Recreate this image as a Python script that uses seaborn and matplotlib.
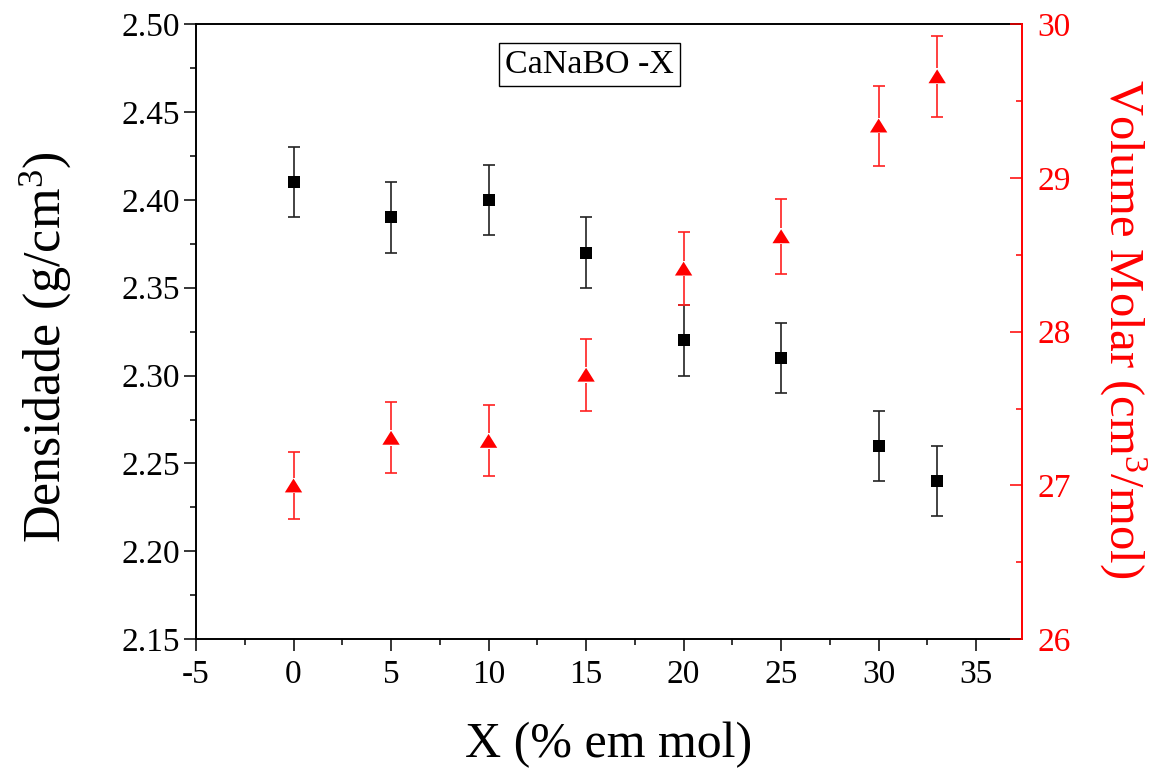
import numpy as np
import pandas as pd
import matplotlib
matplotlib.use("Agg")
import matplotlib.pyplot as plt
import seaborn as sns
from matplotlib.ticker import MultipleLocator

# Composition (% em mol)
x_mol = [0, 5, 10, 15, 20, 25, 30, 33]

# Densidade (g/cm3) and its uncertainty
densidade = [2.41, 2.39, 2.40, 2.37, 2.32, 2.31, 2.26, 2.24]
densidade_err = [0.02, 0.02, 0.02, 0.02, 0.02, 0.02, 0.02, 0.02]

# Volume molar (cm3/mol) and its uncertainty
volume_molar = [27.00, 27.31, 27.29, 27.72, 28.41, 28.62, 29.34, 29.66]
volume_err = [0.22, 0.23, 0.23, 0.235, 0.24, 0.245, 0.26, 0.265]

df = pd.DataFrame({"x": x_mol, "dens": densidade, "dens_err": densidade_err,
                   "vm": volume_molar, "vm_err": volume_err})

sns.set_theme(style="ticks")
plt.rcParams["font.family"] = ["Liberation Serif", "DejaVu Serif"]
plt.rcParams["mathtext.fontset"] = "custom"
plt.rcParams["mathtext.rm"] = "Liberation Serif"
plt.rcParams["mathtext.it"] = "Liberation Serif"
for key in ["text.color", "axes.labelcolor", "xtick.color", "ytick.color",
            "xtick.labelcolor", "ytick.labelcolor"]:
    plt.rcParams[key] = "black"

W, H = 1161, 769
fig = plt.figure(figsize=(W / 100, H / 100), dpi=100)
ax = fig.add_axes([196 / W, 1 - 639.3 / H, 826 / W, 615.3 / H])
ax2 = ax.twinx()

# Densidade: black squares with error bars on the left axis
ax.errorbar(df["x"], df["dens"], yerr=df["dens_err"], fmt="none",
            ecolor="#222222", elinewidth=1.2, capsize=4.3, capthick=1.2, zorder=2)
sns.scatterplot(data=df, x="x", y="dens", ax=ax, marker="s", s=75,
                color="black", edgecolor="none", linewidth=0, zorder=3)

# Volume molar: red triangles with error bars on the right axis
ax2.errorbar(df["x"], df["vm"], yerr=df["vm_err"], fmt="none",
             ecolor="#ff2020", elinewidth=1.2, capsize=4.3, capthick=1.2, zorder=2)
sns.scatterplot(data=df, x="x", y="vm", ax=ax2, marker="s", s=130,
                color="white", edgecolor="none", linewidth=0, zorder=3)
tri = [(-1, -0.8), (1, -0.8), (0, 0.8)]
sns.scatterplot(data=df, x="x", y="vm", ax=ax2, marker=tri, s=156,
                color="red", edgecolor="none", linewidth=0, zorder=4)

# Axis limits and ticks
ax.set_xlim(-5, 37.35)
ax.set_ylim(2.15, 2.50)
ax2.set_ylim(26, 30)
ax.xaxis.set_major_locator(MultipleLocator(5))
ax.xaxis.set_minor_locator(MultipleLocator(2.5))
ax.yaxis.set_major_locator(MultipleLocator(0.05))
ax.yaxis.set_minor_locator(MultipleLocator(0.025))
ax2.yaxis.set_major_locator(MultipleLocator(1))
ax2.yaxis.set_minor_locator(MultipleLocator(0.5))
ax.yaxis.set_major_formatter(matplotlib.ticker.FormatStrFormatter("%.2f"))
ax.xaxis.set_major_formatter(matplotlib.ticker.FuncFormatter(lambda v, p: f"{v:g}"))

for sp in ax.spines.values():
    sp.set_linewidth(1.4)
    sp.set_color("black")
for name, sp in ax2.spines.items():
    sp.set_linewidth(1.4)
    sp.set_visible(name == "right")
ax2.spines["right"].set_color("red")
ax.spines["right"].set_visible(False)

ax.tick_params(axis="both", which="major", direction="out", length=8.5, width=1.1,
               labelsize=24, color="black", pad=3)
ax.tick_params(axis="both", which="minor", direction="out", length=4.5, width=1.1,
               color="black")
ax.tick_params(axis="x", which="major", pad=6)
ax.tick_params(top=False, right=False, which="both")
ax2.tick_params(axis="y", which="major", direction="in", length=8.5, width=1.1,
                labelsize=24, color="red", labelcolor="red", pad=11)
ax2.tick_params(axis="y", which="minor", direction="in", length=4.5, width=1.1,
                color="red")

# Labels
ax.set_xlabel("X (% em mol)", fontsize=36)
ax.xaxis.set_label_coords(0.5, -0.172)
ax.xaxis.label.set_va("center")
ax.set_ylabel(r"Densidade (g/cm$^{\mathrm{3}}$)", fontsize=37.5, va="center")
ax.yaxis.set_label_coords(-0.183, 0.474)
ax2.set_ylabel(r"Volume Molar (cm$^{\mathrm{3}}$/mol)", fontsize=35, color="red",
               rotation=270, va="center")
ax2.yaxis.set_label_coords(1.122, 0.505)

ax.text(0.476, 0.934, "CaNaBO -X", transform=ax.transAxes, fontsize=24.5,
        ha="center", va="center",
        bbox=dict(boxstyle="square,pad=0.18", facecolor="white",
                  edgecolor="black", linewidth=1.0))

fig.savefig("out.png", dpi=100)
